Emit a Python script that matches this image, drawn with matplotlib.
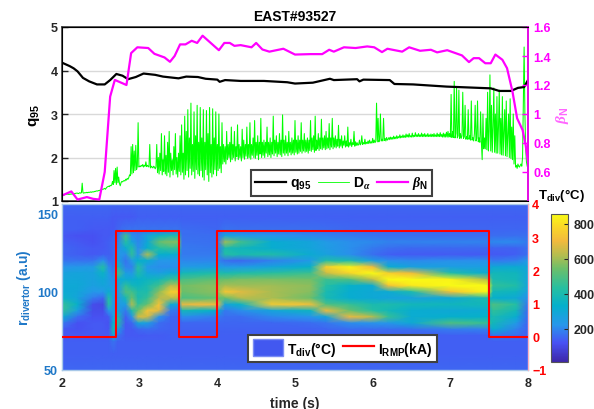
import numpy as np
import matplotlib
matplotlib.use("Agg")
import matplotlib.pyplot as plt
from matplotlib.colors import LinearSegmentedColormap
from matplotlib.lines import Line2D
from matplotlib.patches import Patch

plt.rcParams.update({
    "font.family": "Liberation Sans", "font.weight": "bold",
    "mathtext.fontset": "custom", "mathtext.bf": "Liberation Sans:bold",
    "mathtext.rm": "Liberation Sans", "mathtext.it": "Liberation Serif:italic",
})

# ---- top panel -----
q95_t = [2.0,2.1,2.15,2.2,2.27,2.35,2.45,2.55,2.62,2.7,2.78,2.85,2.95,3.05,3.2,3.3,3.5,3.6,3.75,3.85,4.0,4.03,4.1,4.3,4.6,4.9,5.0,5.23,5.45,5.5,5.8,5.83,5.88,6.22,6.28,6.52,6.95,7.52,7.63,7.78,7.87,7.95,8.0]
q95_v = [4.18,4.1,4.05,3.98,3.83,3.75,3.68,3.68,3.78,3.92,3.88,3.8,3.85,3.93,3.9,3.86,3.82,3.86,3.85,3.81,3.79,3.74,3.78,3.76,3.76,3.73,3.7,3.72,3.81,3.78,3.8,3.75,3.79,3.78,3.69,3.68,3.63,3.59,3.53,3.53,3.6,3.62,3.78]
beta_t = [2.0,2.12,2.2,2.32,2.4,2.48,2.55,2.62,2.68,2.83,2.89,2.97,3.11,3.19,3.32,3.39,3.45,3.52,3.59,3.67,3.74,3.81,4.02,4.09,4.16,4.22,4.3,4.44,4.5,4.58,4.67,4.85,5.0,5.2,5.35,5.44,5.5,5.63,5.78,5.93,6.02,6.12,6.19,6.38,6.47,6.61,6.75,6.83,6.96,7.15,7.24,7.3,7.37,7.45,7.52,7.58,7.67,7.73,7.8,7.86,7.93,7.97,8.0]
beta_v = [0.438,0.466,0.41,0.427,0.415,0.41,0.6,1.12,1.235,1.2,1.42,1.46,1.455,1.415,1.39,1.36,1.4,1.48,1.48,1.505,1.49,1.54,1.44,1.49,1.49,1.47,1.475,1.46,1.49,1.445,1.43,1.45,1.41,1.413,1.413,1.443,1.43,1.46,1.455,1.466,1.46,1.427,1.45,1.43,1.46,1.436,1.443,1.425,1.44,1.404,1.358,1.385,1.385,1.35,1.35,1.41,1.374,1.316,1.155,0.97,0.89,0.785,0.67]
# D-alpha, one reading every 0.01 s from t = 2.00
dalpha = [
1.12,1.13,1.14,1.14,1.15,1.15,1.16,1.16,1.15,1.16,1.15,1.16,1.16,1.16,1.17,1.17,1.17,1.17,1.18,1.18,
1.18,1.17,1.18,1.19,1.18,1.19,1.41,1.19,1.18,1.19,1.19,1.19,1.20,1.19,1.20,1.20,1.20,1.21,1.20,1.21,
1.21,1.21,1.22,1.22,1.23,1.23,1.23,1.24,1.24,1.25,1.25,1.26,1.27,1.27,1.28,1.29,1.27,1.30,1.32,1.33,
1.34,1.33,1.36,1.35,1.37,1.45,1.38,1.70,1.42,1.75,1.38,1.78,1.42,1.55,1.40,1.35,1.42,1.45,1.44,1.46,
1.47,1.46,1.50,1.48,1.52,1.50,1.54,1.60,1.58,2.25,1.62,2.30,1.65,2.15,1.70,2.28,1.72,1.80,2.80,1.78,
1.80,1.79,1.82,1.80,1.84,1.78,1.82,1.80,1.90,1.79,1.82,1.80,1.78,2.30,1.76,1.80,1.78,1.76,1.80,1.78,
1.74,1.78,2.30,1.65,2.00,1.62,2.10,1.70,2.55,1.60,1.95,1.68,2.50,1.62,2.05,1.58,2.35,1.66,2.60,1.55,
2.10,1.70,1.95,1.60,2.25,1.72,2.55,1.62,2.00,1.55,2.10,1.68,2.50,1.60,2.75,1.66,2.10,1.50,2.95,1.60,
2.60,1.70,3.10,1.55,2.45,1.75,3.25,1.60,2.30,1.68,3.05,1.52,2.50,1.72,3.20,1.62,2.35,1.58,3.15,1.70,
2.45,1.55,3.10,1.48,2.35,1.72,3.08,1.60,2.55,1.45,3.15,1.65,2.30,1.55,3.12,1.62,2.45,1.72,3.05,1.58,
2.30,1.70,3.00,1.75,2.25,1.65,2.80,1.85,2.30,1.90,2.25,1.85,2.60,1.95,2.30,2.00,2.35,1.90,2.70,1.95,
2.30,2.00,2.60,1.92,2.25,2.02,2.75,1.95,2.30,2.00,2.25,1.92,2.65,2.00,2.40,1.96,2.30,2.03,2.70,1.98,
2.30,2.00,2.80,1.96,2.30,2.05,2.45,2.00,2.85,1.98,2.35,2.05,2.50,1.95,2.35,2.08,2.90,2.00,2.35,2.05,
2.40,2.00,2.35,2.10,2.70,2.02,2.35,2.06,2.45,2.00,2.35,2.08,2.95,2.04,2.40,2.10,2.50,2.02,2.35,2.08,
2.55,2.06,2.40,2.02,2.98,2.10,2.40,2.05,2.50,2.10,2.35,2.04,2.60,2.12,2.35,2.06,2.45,2.10,2.40,2.06,
2.85,2.12,2.40,2.08,2.50,2.10,2.40,2.14,2.80,2.10,2.40,2.15,2.55,2.12,2.40,2.14,2.45,2.10,2.40,2.16,
2.85,2.14,2.45,2.18,2.50,2.12,2.95,2.16,2.40,2.20,2.55,2.16,2.45,2.20,2.88,2.18,2.45,2.22,2.50,2.18,
2.60,2.20,2.45,2.22,2.78,2.18,2.45,2.24,2.90,2.20,2.45,2.24,2.50,2.22,2.42,2.26,2.74,2.22,2.42,2.26,
2.50,2.22,2.38,2.28,2.50,2.24,2.38,2.26,2.70,2.24,2.34,2.28,2.42,2.25,2.34,2.30,2.60,2.26,2.36,2.28,
2.34,2.28,2.30,2.40,2.29,2.32,2.50,2.30,2.34,2.31,2.42,2.31,2.35,2.32,2.38,2.32,2.40,2.33,2.36,2.33,
2.44,2.34,2.40,2.34,2.38,3.25,2.36,2.90,2.36,2.42,3.00,2.38,2.42,2.38,2.90,2.39,2.44,2.38,2.46,2.40,
2.42,2.46,2.41,2.47,2.42,2.46,2.42,2.49,2.43,2.47,2.43,2.50,2.44,2.48,2.45,2.52,2.45,2.49,2.46,2.52,
2.46,2.50,2.46,2.54,2.47,2.52,2.47,2.55,2.47,2.50,2.47,2.56,2.47,2.51,2.48,2.57,2.48,2.52,2.48,2.55,
2.48,2.52,2.48,2.56,2.48,2.53,2.48,2.55,2.48,2.52,2.48,2.55,2.48,2.52,2.48,2.54,2.48,2.53,2.48,2.55,
2.48,2.52,2.48,2.56,2.48,2.53,2.48,2.57,2.48,2.53,2.47,2.56,2.47,2.54,2.47,2.58,2.47,2.60,2.47,2.55,
2.47,3.45,2.46,2.60,2.46,3.75,2.45,2.55,3.60,2.45,2.50,3.55,2.44,2.55,2.44,2.50,3.50,2.44,2.48,3.20,
2.42,2.48,2.42,3.10,2.42,2.50,2.40,3.30,2.40,2.46,2.38,2.55,3.20,2.38,2.44,3.30,2.36,2.45,2.35,3.05,
2.34,1.95,3.00,2.20,2.45,2.20,2.90,2.18,3.50,2.15,2.60,3.90,2.15,3.20,2.12,2.70,3.60,2.12,3.00,2.10,
3.40,2.10,2.70,3.55,2.08,2.90,2.06,3.40,2.05,2.60,3.10,2.04,3.30,2.02,2.50,3.00,2.00,3.35,1.98,2.70,
1.95,3.00,1.85,2.50,1.78,1.82,1.75,1.85,1.80,1.78,1.82,1.85,1.80,2.00,3.20,4.54,3.00,2.20,1.90,1.80,
]
q_ticks = [1, 2, 3, 4, 5]
beta_ticks = [0.6, 0.8, 1.0, 1.2, 1.4, 1.6]
beta_labels = ["0.6", "0.8", "1", "1.2", "1.4", "1.6"]
time_ticks = [2, 3, 4, 5, 6, 7, 8]

# ---- lower panel -----
irmp_t = [2.0, 2.7, 2.7, 3.5, 3.5, 4.0, 4.0, 7.5, 7.5, 8.0]
irmp_v = [0, 0, 3.2, 3.2, 0, 0, 3.2, 3.2, 0, 0]
r_ticks = [50, 100, 150]
i_ticks = [-1, 0, 1, 2, 3, 4]
cbar_ticks = [200, 400, 600, 800]
r_rows = [156,148,140,136,132,128,124,120,116,112,108,104,100,96,92,88,84,80,76,72,68,60,50]
t_cols = [2.0,2.2,2.4,2.53,2.6,2.66,2.72,2.82,2.9,2.98,3.1,3.25,3.4,3.5,3.55,4.0,4.1,4.3,4.7,5.2,5.4,5.7,6.0,6.2,6.5,7.0,7.47,7.55,7.85,8.0]
# temperature, one list per column of t_cols, values follow r_rows
T_div = [
[150,140,140,130,140,150,150,170,220,270,290,300,310,350,460,450,320,180,130,130,140,140,150],
[150,140,140,120,130,140,140,170,230,280,290,300,290,280,340,260,160,120,120,130,140,140,150],
[150,140,130,120,120,130,130,170,240,270,270,260,230,180,110,110,120,130,130,130,140,140,150],
[150,140,130,130,130,130,140,220,430,350,300,280,230,150,100,110,120,130,130,130,140,140,150],
[150,140,130,130,140,140,140,160,210,240,260,260,310,420,430,230,130,120,125,130,140,140,150],
[150,130,130,140,150,150,150,160,170,190,210,230,240,240,230,240,260,320,400,280,170,140,150],
[150,130,150,170,190,210,240,280,380,480,310,260,240,230,240,280,400,430,260,170,140,140,150],
[150,130,170,480,430,310,210,170,190,260,310,450,500,380,260,180,140,130,130,130,140,140,150],
[150,130,170,210,280,420,450,240,190,230,310,380,480,540,620,400,220,150,130,130,140,140,150],
[150,140,170,190,200,210,220,330,430,410,340,360,410,400,450,540,660,280,150,130,140,140,150],
[150,140,170,280,300,330,620,310,230,280,360,400,410,460,530,730,660,260,160,135,140,140,150],
[150,140,170,360,530,430,330,230,210,260,380,480,580,630,730,680,220,160,150,135,140,140,150],
[150,140,170,400,570,460,320,230,210,300,460,630,760,630,310,180,150,145,145,140,140,140,150],
[150,140,170,400,560,450,310,220,210,300,460,620,730,620,280,170,145,145,145,140,140,140,150],
[150,140,160,165,170,180,180,200,240,380,490,550,540,490,700,380,210,150,145,140,140,140,150],
[150,140,150,160,165,170,180,200,260,420,530,580,580,530,710,330,180,150,145,140,140,140,150],
[150,140,170,280,600,400,430,165,240,400,540,610,740,530,280,180,160,150,145,140,140,140,150],
[150,140,165,240,480,370,400,155,240,420,560,600,680,620,350,210,160,150,145,140,140,140,150],
[150,140,165,220,320,320,420,190,280,440,560,600,610,610,750,280,200,150,145,140,140,140,150],
[150,140,165,200,280,280,310,240,340,470,550,580,570,540,720,360,220,160,145,140,140,140,150],
[150,140,160,190,240,250,270,420,760,650,470,430,400,390,500,700,280,175,150,140,140,140,150],
[150,140,155,180,215,215,215,400,840,780,500,340,320,320,460,540,700,210,160,145,140,140,150],
[150,140,150,170,205,180,165,260,700,857,640,310,300,300,400,430,620,220,160,145,140,140,150],
[150,140,150,165,195,165,140,215,320,760,857,720,310,280,410,380,460,230,160,145,140,140,150],
[150,140,150,165,195,155,135,205,270,700,857,820,400,270,380,320,310,300,165,140,140,140,150],
[150,140,150,160,195,155,135,215,260,420,840,857,720,300,370,300,330,500,185,140,140,140,150],
[150,140,150,160,195,155,135,215,260,310,620,857,850,400,380,310,340,460,190,140,140,140,150],
[150,140,150,160,205,145,130,180,300,380,400,450,380,330,500,450,400,380,320,170,140,140,150],
[150,140,150,165,205,145,140,190,310,370,380,420,360,300,430,380,320,240,190,160,140,140,150],
[150,140,150,165,180,165,165,240,280,290,280,280,260,210,170,155,150,145,145,140,140,140,150],
]

parula = LinearSegmentedColormap.from_list("parula", [
    (0.00, (.2422, .1504, .6603)), (0.13, (.2810, .3228, .9579)),
    (0.25, (.1540, .5902, .9218)), (0.38, (.0200, .6900, .8000)),
    (0.50, (.1500, .7500, .6300)), (0.63, (.4200, .7500, .4200)),
    (0.72, (.7000, .7400, .3100)), (0.82, (.9500, .7300, .2400)),
    (0.92, (.9800, .8500, .1500)), (1.00, (.9769, .9839, .0805))])

W, H = 594, 410
def rect(x0, y0, x1, y1):
    return [x0 / W, 1 - y1 / H, (x1 - x0) / W, (y1 - y0) / H]

DARK = "#262626"
BLUE = "#1f78c8"
MAG = "#ff00ff"
RED = "#ff0000"
FS = 9

fig = plt.figure(figsize=(W / 100, H / 100), dpi=100)
ax1 = fig.add_axes(rect(62, 28, 528, 202))
ax1.set_xlim(2, 8); ax1.set_ylim(1, 5)
ax1.set_yticks(q_ticks); ax1.set_xticks(time_ticks); ax1.set_xticklabels([])
ax1.grid(axis="y", color="#d9d9d9", lw=1.0); ax1.set_axisbelow(True)
ax1.plot(2 + 0.01 * np.arange(len(dalpha)), dalpha, color="#00ff00", lw=0.75)
ax1.plot(q95_t, q95_v, color="black", lw=1.6)
ax1.tick_params(axis="y", direction="in", length=4, width=1, colors=DARK, labelsize=FS, pad=3)
ax1.tick_params(axis="x", length=0)
ax1.set_ylabel(r"$\mathbf{q_{95}}$", fontsize=11, color="black", labelpad=6)
ax1.set_title("EAST#93527", fontsize=10, fontweight="bold", color="black", pad=5)
for s in ax1.spines.values():
    s.set_color("#404040"); s.set_linewidth(1.2)

ax1r = ax1.twinx()
ax1r.set_ylim(0.4, 1.6)
ax1r.plot(beta_t, beta_v, color=MAG, lw=1.6)
ax1r.set_yticks(beta_ticks); ax1r.set_yticklabels(beta_labels)
ax1r.tick_params(axis="y", direction="in", length=4, width=1, colors=MAG, labelsize=FS, pad=4)
ax1r.spines["right"].set_color(MAG); ax1r.spines["right"].set_linewidth(1.2)
ax1r.set_ylabel(r"$\beta_{\mathbf{N}}$", fontsize=11, color="#ff66ff", rotation=90, labelpad=2)
ax1r.yaxis.set_label_coords(1.055, 0.5)
h1 = [Line2D([], [], color="black", lw=1.6), Line2D([], [], color="#00ff00", lw=0.6), Line2D([], [], color=MAG, lw=1.6)]
leg1 = ax1r.legend(h1, [r"$\mathbf{q_{95}}$", r"$\mathbf{D}_{\alpha}$", r"$\beta_{\mathbf{N}}$"],
                   ncol=3, loc="center", bbox_to_anchor=((250 + 433) / 2 / W, 1 - 184 / H),
                   bbox_transform=fig.transFigure, fontsize=10, frameon=True, fancybox=False,
                   edgecolor="#404040", framealpha=1, handlelength=2.2, columnspacing=0.5,
                   handletextpad=0.3, borderpad=0.3, borderaxespad=0)
leg1.get_frame().set_linewidth(1.5)

ax2 = fig.add_axes(rect(62, 205, 528, 371))
T = np.array(T_div).T
im = ax2.pcolormesh(t_cols, r_rows, T, cmap=parula, vmin=11, vmax=857, shading="gouraud", rasterized=True)
ax2.set_xlim(2, 8); ax2.set_ylim(50, 156.4)
ax2.set_yticks(r_ticks); ax2.set_xticks(time_ticks)
ax2.tick_params(axis="y", length=0, colors=BLUE, labelsize=FS, pad=3)
ax2.tick_params(axis="x", length=0, colors=DARK, labelsize=FS, pad=5)
ax2.set_xlabel("time (s)", fontsize=10, fontweight="bold", color=DARK, labelpad=5)
ax2.set_ylabel(r"$\mathbf{r_{divertor}}$ (a.u)", fontsize=10, fontweight="bold", color=BLUE, labelpad=3)
for s in ax2.spines.values():
    s.set_color("#a8c8e8"); s.set_linewidth(1)

ax2r = ax2.twinx()
ax2r.set_ylim(-1, 4)
ax2r.plot(irmp_t, irmp_v, color=RED, lw=1.5)
ax2r.set_yticks(i_ticks)
ax2r.tick_params(axis="y", length=0, colors=RED, labelsize=FS, pad=3)
ax2r.spines["right"].set_color("#ffb0c0")
for k in ("left", "top", "bottom"):
    ax2r.spines[k].set_visible(False)
h2 = [Patch(facecolor="#4258f0", edgecolor="#7a8cf5"), Line2D([], [], color=RED, lw=1.6)]
leg2 = ax2r.legend(h2, [r"$\mathbf{T_{div}}$(°C)", r"$\mathbf{I_{RMP}}$(kA)"],
                   ncol=2, loc="center", bbox_to_anchor=((249 + 436) / 2 / W, 1 - 349.5 / H),
                   bbox_transform=fig.transFigure, fontsize=10, frameon=True, fancybox=False,
                   edgecolor="#404040", framealpha=1, handlelength=2.2, handleheight=1.5,
                   columnspacing=0.5, handletextpad=0.3, borderpad=0.3, borderaxespad=0)
leg2.get_frame().set_linewidth(1.5)

cax = fig.add_axes(rect(551, 215, 568, 363))
cb = fig.colorbar(im, cax=cax)
cb.set_ticks(cbar_ticks)
cax.tick_params(axis="y", direction="in", length=3, width=0.8, colors=DARK, labelsize=FS, pad=4)
cb.outline.set_edgecolor("#555555"); cb.outline.set_linewidth(0.8)
fig.text(561 / W, 1 - 196 / H, r"$\mathbf{T_{div}}$(°C)", fontsize=9.5, color="black", ha="center", va="center")

fig.savefig("out.png", dpi=100)
